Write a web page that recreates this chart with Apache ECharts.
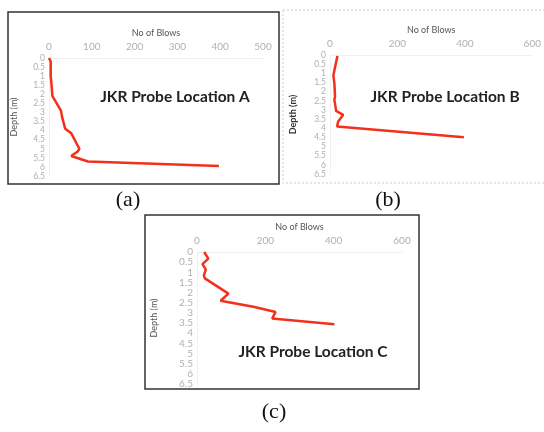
<!DOCTYPE html>
<html>
<head>
<meta charset="utf-8">
<script src="https://cdn.jsdelivr.net/npm/echarts@6/dist/echarts.min.js"></script>
<style>
html,body{margin:0;padding:0;background:#fff;}
#main{width:544px;height:432px;}
</style>
</head>
<body>
<div id="main"></div>
<script>
// blows vs depth (m)
var depthA=[0,0.2,1,1.5,2.1,2.9,3.3,3.9,4.15,5.0,5.15,5.4,5.7,5.95];
var blowsA=[0,4,4,6,8,28,31,38,52,71,67,52,91,397];
var depthB=[0.05,1.1,1.55,2.27,2.45,2.9,3.05,3.27,3.64,3.9,4.49];
var blowsB=[22,10,13,15,13,17,18,39,24,21,397];
var depthC=[0,0.33,0.6,0.87,1.15,1.3,2.05,2.4,2.7,2.95,3.28,3.56];
var blowsC=[21,33,16,26,20,23,92,69,165,230,220,402];
var depthTicks=[0,0.5,1,1.5,2,2.5,3,3.5,4,4.5,5,5.5,6,6.5];
var labels=["(a)","(b)","(c)"];
var notes=["JKR Probe Location A","JKR Probe Location B","JKR Probe Location C"];

function pairs(b,d){ return b.map(function(v,i){ return [v,d[i]]; }); }

var font="Lato";
var tickCol="#b0b0b0";
function xAx(idx,max,step){
	return {gridIndex:idx,type:"value",position:"top",min:0,max:max,interval:step,
		name:"No of Blows",nameLocation:"middle",nameGap:20,
		nameTextStyle:{color:"#555",fontSize:9,fontFamily:font},
		axisLine:{show:true,lineStyle:{color:"#f0f0f0"}},axisTick:{show:false},splitLine:{show:false},
		axisLabel:{color:tickCol,fontSize:10,fontFamily:font,margin:6}};
}
function yAx(idx,gap,bold,size){
	return {gridIndex:idx,type:"value",inverse:true,min:0,max:6.5,interval:0.5,
		name:"Depth (m)",nameLocation:"middle",nameRotate:90,nameGap:gap,
		nameTextStyle:{color:bold?"#333":"#555",fontSize:9,fontWeight:bold?"bold":"normal",fontFamily:font},
		axisLine:{show:true,lineStyle:{color:"#f0f0f0"}},axisTick:{show:false},splitLine:{show:false},
		axisLabel:{color:tickCol,fontSize:size,fontFamily:font,margin:4,showMinLabel:true,showMaxLabel:true,hideOverlap:false,
			formatter:function(v){ return depthTicks.indexOf(v)>=0?String(v):""; }}};
}
function serie(idx,data){
	return {type:"line",xAxisIndex:idx,yAxisIndex:idx,data:data,symbol:"none",
		lineStyle:{color:"#f2301c",width:2.5},silent:true};
}

var chart=echarts.init(document.getElementById("main"),null,{renderer:"canvas"});
var option={
	backgroundColor:"#fff",
	animation:false,
	grid:[
		{left:49,top:58,width:214,height:118},
		{left:330,top:55,width:205,height:119},
		{left:197,top:252,width:205,height:132}
	],
	xAxis:[xAx(0,500,100),xAx(1,600,200),xAx(2,600,200)],
	yAxis:[yAx(0,30,false,8.5),yAx(1,32,true,8.5),yAx(2,38,false,10)],
	series:[serie(0,pairs(blowsA,depthA)),serie(1,pairs(blowsB,depthB)),serie(2,pairs(blowsC,depthC))],
	graphic:[
		{type:"rect",shape:{x:8,y:12,width:271,height:172},style:{fill:"none",stroke:"#333",lineWidth:1.5},z:-1},
		{type:"rect",shape:{x:283,y:10,width:262,height:173},style:{fill:"none",stroke:"#ccc",lineWidth:1,lineDash:[2,2]},z:-1},
		{type:"rect",shape:{x:145,y:215,width:274,height:174},style:{fill:"none",stroke:"#333",lineWidth:1.5},z:-1},
		{type:"text",x:175,y:97,style:{text:notes[0],fontSize:15.5,fontWeight:"bold",fontFamily:font,fill:"#222",align:"center",verticalAlign:"middle"}},
		{type:"text",x:445,y:97,style:{text:notes[1],fontSize:15.5,fontWeight:"bold",fontFamily:font,fill:"#222",align:"center",verticalAlign:"middle"}},
		{type:"text",x:313,y:352,style:{text:notes[2],fontSize:15.5,fontWeight:"bold",fontFamily:font,fill:"#222",align:"center",verticalAlign:"middle"}},
		{type:"text",x:128,y:200,style:{text:labels[0],fontSize:22,fontFamily:"Liberation Serif",fill:"#111",align:"center",verticalAlign:"middle"}},
		{type:"text",x:388,y:200,style:{text:labels[1],fontSize:22,fontFamily:"Liberation Serif",fill:"#111",align:"center",verticalAlign:"middle"}},
		{type:"text",x:274,y:412,style:{text:labels[2],fontSize:22,fontFamily:"Liberation Serif",fill:"#111",align:"center",verticalAlign:"middle"}}
	]
};
chart.setOption(option);
window.addEventListener("resize",function(){ chart.resize(); });
</script>
</body>
</html>
